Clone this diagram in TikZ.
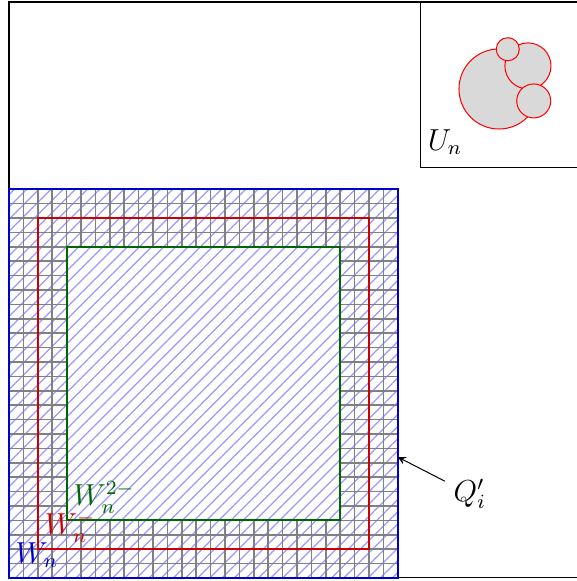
\documentclass[tikz,border=0pt]{standalone}
\usetikzlibrary{patterns,patterns.meta,arrows,positioning}

\begin{document}
\begin{tikzpicture}[x=0.2cm, y=0.2cm,
    hatch/.style={pattern={Lines[angle=45, distance=3.4pt, line width=0.5pt]}, pattern color=blue!40},
    cell/.style={draw=gray, line width=0.6pt, step=0.2cm},
    ball/.style={draw=red, fill=gray!30},
    wline/.style={thick},
    lbl/.style={font=\large},
    arrow/.style={->, >=stealth}
]
\useasboundingbox (-0.625,-0.21) rectangle (39.44,40.14);

% outer frame and the box of U_n
\draw (0,0) rectangle (40,40);
\draw (28.6,28.5) rectangle (40,40);

% the balls
\draw[ball] (34.03,33.96) circle (2.78);
\draw[ball] (36.04,35.56) circle (1.6);
\draw[ball] (36.44,33.13) circle (1.18);
\draw[ball] (34.64,36.72) circle (0.8);
\node[lbl] (un) at (30.28,30.28) {$U_n$};

% hatched square with the grid of cubes
\fill[hatch] (0,0) rectangle (27,27);
\draw[cell] (0,0) grid (27,27);
\fill[white] (4,4) rectangle (23,23);
\fill[hatch] (4,4) rectangle (23,23);

\draw[wline, blue!80!black] (0,0) rectangle (27,27);
\draw[wline, red!80!black] (2,2) rectangle (25,25);
\draw[wline, green!40!black] (4,4) rectangle (23,23);

\node[lbl, text=blue!80!black] (wn) at (1.94,1.6) {$W_n$};
\node[lbl, text=red!80!black] (wnm) at (4.24,3.54) {$W_n^-$};
\node[lbl, text=green!40!black] (wnmm) at (6.6,5.6) {$W_n^{2-}$};

\node[lbl] (qi) at (32,5.83) {$Q'_i$};
\coordinate (hit) at (27,8.4);
\draw[arrow] (qi) -- (hit);

\end{tikzpicture}
\end{document}
